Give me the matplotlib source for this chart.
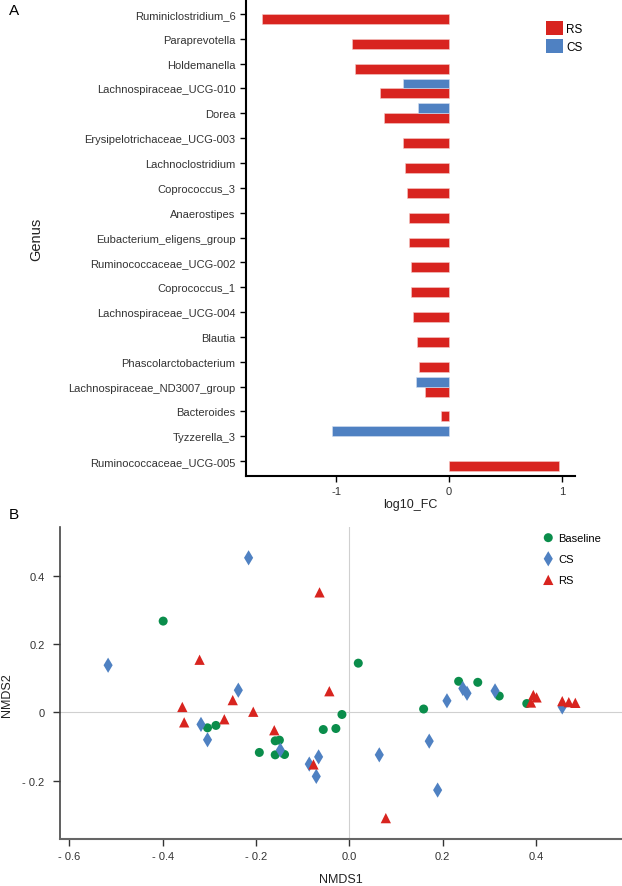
import numpy as np
import matplotlib
matplotlib.use("Agg")
import matplotlib.pyplot as plt
from matplotlib.patches import Patch

plt.rcParams['font.family'] = ['Liberation Sans', 'DejaVu Sans']

# ---- panel A data: log10 fold change per genus ----
genera = ['Ruminiclostridium_6', 'Paraprevotella', 'Holdemanella',
          'Lachnospiraceae_UCG-010', 'Dorea', 'Erysipelotrichaceae_UCG-003',
          'Lachnoclostridium', 'Coprococcus_3', 'Anaerostipes',
          'Eubacterium_eligens_group', 'Ruminococcaceae_UCG-002',
          'Coprococcus_1', 'Lachnospiraceae_UCG-004', 'Blautia',
          'Phascolarctobacterium', 'Lachnospiraceae_ND3007_group',
          'Bacteroides', 'Tyzzerella_3', 'Ruminococcaceae_UCG-005']
fc_rs = [-1.655, -0.864, -0.838, -0.617, -0.581, -0.41, -0.389, -0.378,
         -0.354, -0.354, -0.342, -0.336, -0.322, -0.283, -0.265, -0.212,
         -0.071, np.nan, 0.97]
fc_cs = [np.nan, np.nan, np.nan, -0.41, -0.28, np.nan, np.nan, np.nan,
         np.nan, np.nan, np.nan, np.nan, np.nan, np.nan, np.nan, -0.292,
         np.nan, -1.041, np.nan]

# ---- panel B data: NMDS coordinates ----
base_x = [-0.399, 0.019, -0.304, -0.286, -0.159, -0.150, -0.193, -0.159,
          -0.139, -0.056, -0.029, -0.016, 0.159, 0.234, 0.275, 0.321, 0.380]
base_y = [0.267, 0.144, -0.045, -0.038, -0.083, -0.081, -0.117, -0.124,
          -0.123, -0.050, -0.047, -0.006, 0.010, 0.091, 0.088, 0.048, 0.026]
cs_x = [-0.216, -0.517, -0.238, -0.318, -0.304, -0.148, -0.086, -0.066,
        -0.071, 0.064, 0.171, 0.189, 0.209, 0.243, 0.252, 0.312, 0.456]
cs_y = [0.452, 0.138, 0.065, -0.035, -0.080, -0.110, -0.151, -0.130,
        -0.187, -0.124, -0.084, -0.227, 0.034, 0.070, 0.056, 0.063, 0.016]
rs_x = [-0.064, -0.321, -0.043, -0.250, -0.358, -0.354, -0.268, -0.206,
        -0.161, -0.077, 0.078, 0.394, 0.401, 0.389, 0.456, 0.470, 0.484]
rs_y = [0.351, 0.154, 0.062, 0.036, 0.016, -0.029, -0.020, 0.002,
        -0.052, -0.152, -0.309, 0.051, 0.044, 0.029, 0.033, 0.030, 0.028]

RED = '#d8241f'
BLUE = '#4f81c2'
GREEN = '#0a8d4b'

fig = plt.figure(figsize=(6.22, 8.87), dpi=100)

# ================= panel A =================
ax1 = fig.add_axes([0.3955, 0.4622, 0.529, 0.5378])
pos = np.arange(len(genera))
ax1.barh(pos + 0.2, fc_rs, height=0.4, color=RED, edgecolor='#f4c9c6',
         linewidth=0.4)
ax1.barh(pos - 0.2, fc_cs, height=0.4, color=BLUE, edgecolor='#d5e1f1',
         linewidth=0.4)
ax1.set_ylim(18.6, -0.6)
ax1.set_xlim(-1.8, 1.115)
ax1.set_yticks(pos)
ax1.set_yticklabels(genera, fontsize=8, color='#333333')
ax1.set_xticks([-1, 0, 1])
ax1.set_xticklabels(['-1', '0', '1'], fontsize=8, color='#333333')
ax1.tick_params(axis='both', direction='out', length=4, width=1, color='black')
for s in ['top', 'right']:
    ax1.spines[s].set_visible(False)
for s in ['left', 'bottom']:
    ax1.spines[s].set_linewidth(1.5)
    ax1.spines[s].set_color('black')
ax1.set_xlabel('log10_FC', fontsize=9, color='#222222')
ax1.xaxis.set_label_coords(0.5, -0.046)
fig.text(0.058, 0.73, 'Genus', rotation=90, fontsize=10.5, color='#222222',
         ha='center', va='center')
fig.text(0.014, 0.988, 'A', fontsize=11, ha='left', va='center')

handles = [Patch(facecolor=RED, edgecolor='none', label='RS'),
           Patch(facecolor=BLUE, edgecolor='none', label='CS')]
ax1.legend(handles=handles, loc='upper left', bbox_to_anchor=(0.894, 0.966),
           frameon=False, fontsize=8.5, handlelength=1.4, handleheight=1.4,
           handletextpad=0.3, labelspacing=0.35, borderpad=0)

# ================= panel B =================
ax2 = fig.add_axes([0.0965, 0.053, 0.9035, 0.3517])
ax2.axhline(0, color='#d0d0d0', lw=0.8, zorder=0)
ax2.axvline(0, color='#d0d0d0', lw=0.8, zorder=0)
ax2.scatter(base_x, base_y, s=42, marker='o', color=GREEN, edgecolors='none',
            label='Baseline', zorder=3)
ax2.scatter(cs_x, cs_y, s=60, marker='d', color=BLUE, edgecolors='none',
            label='CS', zorder=3)
ax2.scatter(rs_x, rs_y, s=55, marker='^', color=RED, edgecolors='none',
            label='RS', zorder=3)
ax2.set_xlim(-0.62, 0.584)
ax2.set_ylim(-0.37, 0.542)
ax2.set_xticks([-0.6, -0.4, -0.2, 0.0, 0.2, 0.4])
ax2.set_xticklabels(['- 0.6', '- 0.4', '- 0.2', '0.0', '0.2', '0.4'],
                    fontsize=8, color='#333333')
ax2.set_yticks([-0.2, 0, 0.2, 0.4])
ax2.set_yticklabels(['- 0.2', '0', '0.2', '0.4'], fontsize=8, color='#333333')
ax2.tick_params(axis='both', direction='out', length=5, width=1, color='#333333')
ax2.tick_params(axis='y', pad=6)
for s in ['top', 'right']:
    ax2.spines[s].set_visible(False)
ax2.spines['left'].set_color('#444444')
ax2.spines['bottom'].set_color('#666666')
ax2.spines['left'].set_linewidth(1.2)
ax2.spines['bottom'].set_linewidth(1.5)
ax2.set_xlabel('NMDS1', fontsize=9, color='#222222')
ax2.xaxis.set_label_coords(0.5, -0.108)
fig.text(0.012, 0.2165, 'NMDS2', rotation=90, fontsize=9, color='#222222',
         ha='center', va='center')
fig.text(0.014, 0.419, 'B', fontsize=11, ha='left', va='center')
ax2.legend(loc='upper left', bbox_to_anchor=(0.851, 1.0), frameon=False,
           fontsize=8, handlelength=0.8, handletextpad=0.5, labelspacing=1.0,
           borderpad=0, markerscale=1.0)

fig.savefig('out.png', dpi=100)
